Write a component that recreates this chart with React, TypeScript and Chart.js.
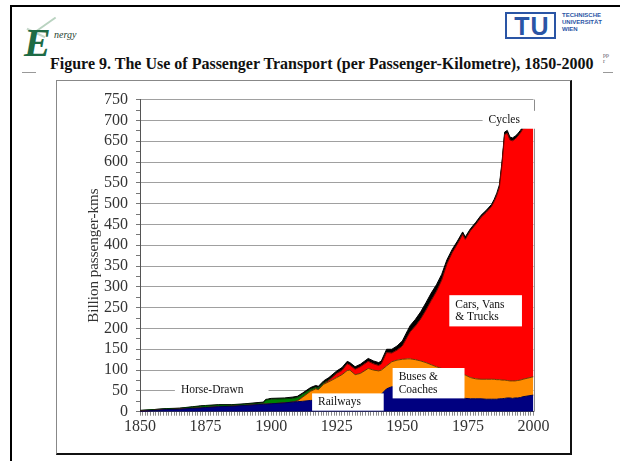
import React, { useEffect, useRef } from 'react';
import { Chart, registerables } from 'chart.js';

Chart.register(...registerables);

// ---- data (billion passenger-kms, stacked) ----
const YEARS = [1850, 1855, 1860, 1865, 1870, 1873, 1875, 1880, 1885, 1890, 1895, 1897, 1898, 1900, 1905, 1908, 1910, 1912, 1915, 1917, 1918, 1920, 1922, 1925, 1927, 1929, 1930, 1932, 1934, 1937, 1939, 1941, 1942, 1944, 1946, 1948, 1950, 1952, 1953, 1955, 1957, 1959, 1961, 1963, 1965, 1967, 1969, 1971, 1973, 1974, 1976, 1978, 1980, 1982, 1984, 1985, 1986, 1987, 1988, 1989, 1990, 1991, 1992, 1993, 1994, 1995, 1996, 2000];
const RAILWAYS = [1, 3, 5, 6, 8, 9, 10, 12, 13, 15, 17, 18, 18, 19, 21, 23, 24, 25, 27, 28, 28, 29, 30, 30, 31, 31, 31, 30, 31, 32, 33, 38, 42, 55, 60, 58, 55, 52, 50, 48, 45, 43, 41, 40, 38, 36, 35, 34, 33, 32, 31, 31, 31, 30, 30, 30, 30, 31, 31, 32, 33, 33, 32, 33, 33, 34, 36, 40];
const BUSES = [0, 0, 0, 0, 0, 0, 0, 0, 0, 0, 0, 0, 0, 0, 0, 0, 2, 10, 22, 27, 25, 37, 42, 52, 58, 68, 69, 59, 61, 72, 67, 60, 58, 55, 60, 66, 71, 75, 77, 77, 77, 75, 72, 68, 66, 64, 61, 59, 57, 56, 51, 48, 47, 48, 48, 48, 47, 46, 45, 44, 42, 41, 42, 41, 42, 42, 42, 44];
const CARS = [0, 0, 0, 0, 0, 0, 0, 0, 0, 0, 0, 0, 0, 0, 0, 0, 0, 0, 0, 0, 0, 0, 3, 10, 10, 16, 12, 13, 16, 17, 15, 13, 15, 32, 21, 24, 32, 54, 65, 81, 101, 126, 154, 181, 212, 255, 286, 310, 336, 326, 353, 371, 389, 401, 415, 427, 443, 462, 518, 590, 594, 579, 577, 581, 587, 594, 602, 602];
const HORSE_DRAWN = [2, 2, 2, 2, 3, 4, 4, 4, 3, 3, 3, 3, 10, 11, 10, 9, 8, 7, 5, 4, 4, 3, 2, 1, 1, 0, 0, 0, 0, 0, 0, 0, 0, 0, 0, 0, 0, 0, 0, 0, 0, 0, 0, 0, 0, 0, 0, 0, 0, 0, 0, 0, 0, 0, 0, 0, 0, 0, 0, 0, 0, 0, 0, 0, 0, 0, 0, 0];
const CYCLES = [0, 0, 0.5, 0.5, 1, 1, 1, 1, 1, 1, 2, 2, 2, 2, 2, 3, 3, 3, 4, 4, 4, 5, 5, 5, 6, 6, 6, 6, 6, 7, 7, 7, 7, 8, 9, 10, 12, 14, 15, 16, 17, 18, 18, 16, 14, 10, 8, 7, 6, 6, 5, 5, 5, 5, 5, 5, 5, 6, 6, 6, 7, 7, 7, 7, 6, 6, 6, 6];

const X_MIN = 1850;
const X_MAX = 2000;
const X_LABEL_STEP = 25;
const Y_MAX = 750;
const Y_MINOR_STEP = 25;
const Y_LABEL_STEP = 50;

const TITLE = 'Figure 9. The Use of Passenger Transport (per Passenger-Kilometre), 1850-2000';
const Y_TITLE = 'Billion passenger-kms';

// in-chart labels (white boxes), placed in data units
const LABELS = [
  { lines: ['Horse-Drawn'], x0: 1863.3, x1: 1899, y0: 32, y1: 74 },
  { lines: ['Railways'], x0: 1915.6, x1: 1942.9, y0: 0, y1: 44 },
  { lines: ['Buses &', 'Coaches'], x0: 1946.3, x1: 1973.7, y0: 32, y1: 105 },
  { lines: ['Cars, Vans', '& Trucks'], x0: 1967.9, x1: 1995.6, y0: 205, y1: 280 },
  { lines: ['Cycles'], x0: 1980.6, x1: 2003, y0: 680, y1: 723 },
];

const SERIF = '"Liberation Serif", "Times New Roman", serif';

const pts = (arr: number[]) => YEARS.map((yr, i) => ({ x: yr, y: arr[i] }));

const labelPlugin = {
  id: 'labelBoxes',
  afterDatasetsDraw(chart: any) {
    const { ctx, chartArea } = chart;
    const x = chart.scales.x;
    const y = chart.scales.y;
    ctx.save();
    // plot-area right border
    const rx = Math.round(x.getPixelForValue(X_MAX)) + 0.5;
    ctx.strokeStyle = '#8c8c8c';
    ctx.lineWidth = 1;
    ctx.beginPath();
    ctx.moveTo(rx, chartArea.top);
    ctx.lineTo(rx, chartArea.bottom);
    ctx.stroke();
    for (const b of LABELS) {
      const left = x.getPixelForValue(b.x0);
      const right = x.getPixelForValue(b.x1);
      const top = y.getPixelForValue(b.y1);
      const bottom = b.y0 === 0 ? y.getPixelForValue(0) - 1 : y.getPixelForValue(b.y0);
      ctx.fillStyle = '#ffffff';
      ctx.fillRect(left, top, right - left, bottom - top);
      ctx.fillStyle = '#111';
      ctx.font = `11.5px ${SERIF}`;
      ctx.textAlign = 'left';
      ctx.textBaseline = 'middle';
      const cy = (top + bottom) / 2;
      const lh = 12.6;
      const n = b.lines.length;
      b.lines.forEach((t, i) => ctx.fillText(t, left + 6, cy + (i - (n - 1) / 2) * lh));
    }
    ctx.restore();
  },
};

function TransportChart() {
  const ref = useRef<HTMLCanvasElement | null>(null);
  useEffect(() => {
    if (!ref.current) return;
    const mk = (label: string, data: number[], bg: string, border: string, fill: any) => ({
      label,
      data: pts(data),
      backgroundColor: bg,
      borderColor: border,
      borderWidth: 1,
      fill,
      pointRadius: 0,
      tension: 0,
    });
    const tickFont = { family: SERIF, size: 16 };
    const chart = new Chart(ref.current, {
      type: 'line',
      data: {
        datasets: [
          mk('Railways', RAILWAYS, '#000080', '#00004a', 'origin'),
          mk('Buses & Coaches', BUSES, '#ff8c00', '#6a3a00', '-1'),
          mk('Cars, Vans & Trucks', CARS, '#ff0000', '#7a0000', '-1'),
          mk('Horse-Drawn', HORSE_DRAWN, '#008000', '#003300', '-1'),
          mk('Cycles', CYCLES, '#000000', '#000000', '-1'),
        ] as any,
      },
      options: {
        animation: false,
        responsive: false,
        devicePixelRatio: 1,
        layout: { padding: { left: 0, top: 10.5, right: 36.5, bottom: 0 } },
        plugins: { legend: { display: false }, tooltip: { enabled: false } },
        scales: {
          x: {
            type: 'linear',
            min: X_MIN,
            max: X_MAX,
            ticks: {
              stepSize: 1,
              autoSkip: false,
              maxRotation: 0,
              padding: 1,
              font: tickFont,
              color: '#333',
              callback: (v: any) => (Number(v) % X_LABEL_STEP === 0 ? String(v) : ''),
            },
            grid: { drawOnChartArea: false, tickLength: 4, tickColor: '#8a8a8a' },
            border: { color: '#444', width: 1 },
            afterFit: (s: any) => { s.height = 41.3; },
          },
          y: {
            type: 'linear',
            stacked: true,
            min: 0,
            max: Y_MAX,
            ticks: {
              stepSize: Y_MINOR_STEP,
              autoSkip: false,
              padding: 8,
              font: tickFont,
              color: '#333',
              callback: (v: any) => (Number(v) % Y_LABEL_STEP === 0 ? String(v) : ''),
            },
            grid: {
              color: (c: any) => (c.tick && c.tick.value % Y_LABEL_STEP === 0 ? '#a0a0a0' : 'rgba(0,0,0,0)'),
              tickColor: '#777',
              tickLength: 4,
              lineWidth: 1,
            },
            border: { color: '#555', width: 1 },
            title: {
              display: true,
              text: Y_TITLE,
              font: { family: SERIF, size: 15 },
              color: '#333',
              padding: { top: 27, bottom: 0 },
            },
            afterFit: (s: any) => { s.width = 82; },
          },
        },
      } as any,
      plugins: [labelPlugin],
    });
    return () => chart.destroy();
  }, []);
  return <canvas ref={ref} width={512} height={371} style={{ display: 'block', width: 512, height: 371 }} />;
}

export default function App() {
  const abs = (o: any) => ({ position: 'absolute', ...o });
  return (
    <div style={abs({ left: 0, top: 0, width: 620, height: 461, background: '#fff', overflow: 'hidden', fontFamily: SERIF })}>
      {/* slide frame */}
      <div style={abs({ left: 10, top: 5, width: 610, height: 2, background: '#000' })} />
      <div style={abs({ left: 10, top: 5, width: 2, height: 456, background: '#000' })} />
      <div style={abs({ left: 22, top: 72, width: 14, height: 1, background: '#999' })} />
      <div style={abs({ left: 603, top: 72, width: 10, height: 1, background: '#999' })} />
      {/* Energy logo */}
      <div style={abs({ left: 32, top: 24, width: 26, height: 2, background: '#b9d3c0', transform: 'rotate(-35deg)' })} />
      <div style={abs({ left: 26, top: 32, width: 20, height: 2, background: '#c6d8cb', transform: 'rotate(25deg)' })} />
      <div style={abs({ left: 24, top: 23, fontSize: 40, fontWeight: 'bold', fontStyle: 'italic', color: '#1e6b45', lineHeight: '40px' })}>E</div>
      <div style={abs({ left: 54, top: 30, fontSize: 10, fontStyle: 'italic', color: '#1f3f30', lineHeight: '10px' })}>nergy</div>
      {/* TU logo */}
      <div style={abs({ left: 505, top: 12, width: 51, height: 27, border: '2px solid #2a55a5', boxSizing: 'border-box' })} />
      <div style={abs({ left: 511, top: 12, width: 42, fontSize: 25, fontWeight: 'bold', fontFamily: '"Liberation Sans", sans-serif', color: '#2a55a5', lineHeight: '28px', letterSpacing: 1, textAlign: 'center' })}>TU</div>
      <div style={abs({ left: 562, top: 12, fontSize: 6, fontWeight: 'bold', fontFamily: '"Liberation Sans", sans-serif', color: '#2a55a5', lineHeight: '7px' })}>
        TECHNISCHE<br />UNIVERSITÄT<br />WIEN
      </div>
      <div style={abs({ left: 603, top: 52, fontSize: 6, color: '#556', lineHeight: '6px' })}>pp<br />r</div>
      {/* title */}
      <div style={abs({ left: 50, top: 54, fontSize: 16, fontWeight: 'bold', whiteSpace: 'nowrap', color: '#111', lineHeight: '20px' })}>{TITLE}</div>
      {/* chart frame */}
      <div style={abs({ left: 56, top: 80, width: 516, height: 375, borderTop: '1px solid #888', borderLeft: '1px solid #888', borderRight: '2px solid #111', borderBottom: '2px solid #111', boxSizing: 'border-box' })} />
      <div style={abs({ left: 58, top: 82 })}>
        <TransportChart />
      </div>
    </div>
  );
}
